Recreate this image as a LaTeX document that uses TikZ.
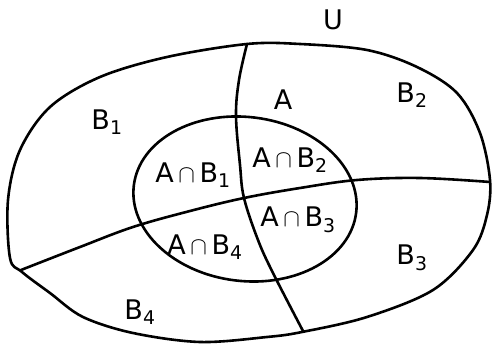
\documentclass[tikz,border=0pt]{standalone}
\usepackage{fontspec}
\setsansfont{DejaVu Sans}
\begin{document}
\begin{tikzpicture}[x=1pt,y=-1pt,
  curve/.style={line width=2.6pt,line join=round,line cap=round},
  lbl/.style={font=\sffamily\fontsize{27}{30}\selectfont,inner sep=0pt}]
\useasboundingbox (0,0) rectangle (492,344);
% outer set U
\draw[curve] plot[smooth cycle,tension=0.55] coordinates {
 (247,44) (300,44) (367,50) (417,67) (457,93) (480,133) (490,180)
 (487,215) (473,250) (433,290) (367,317) (302,332) (267,337) (200,342)
 (133,333) (83,317) (50,293) (22,272) (10,258) (8,200) (20,150)
 (50,107) (100,77) (167,57)};
% inner set A
\draw[curve,rotate around={-7:(245,199)}] (245,199) ellipse [x radius=112, y radius=82];
% vertical partition
\draw[curve] plot[smooth,tension=0.6] coordinates {
 (247,44) (239,80) (236,116) (240,165) (244,198) (258,240) (273,273) (303,331)};
% horizontal partition
\draw[curve] plot[smooth,tension=0.6] coordinates {
 (21,270) (80,247) (133,227) (190,211) (244,198) (300,188) (357,180) (420,178) (490,182)};
\node[lbl] (U) at (333,20) {U};
\node[lbl] (B1) at (107,122) {B\textsubscript{1}};
\node[lbl] (A) at (283,100) {A};
\node[lbl] (B2) at (412,95) {B\textsubscript{2}};
\node[lbl] (AB1) at (193,175) {A\,$\cap$\,B\textsubscript{1}};
\node[lbl] (AB2) at (290,160) {A\,$\cap$\,B\textsubscript{2}};
\node[lbl] (AB3) at (298,220) {A\,$\cap$\,B\textsubscript{3}};
\node[lbl] (AB4) at (205,247) {A\,$\cap$\,B\textsubscript{4}};
\node[lbl] (B3) at (412,258) {B\textsubscript{3}};
\node[lbl] (B4) at (140,312) {B\textsubscript{4}};
\end{tikzpicture}
\end{document}
